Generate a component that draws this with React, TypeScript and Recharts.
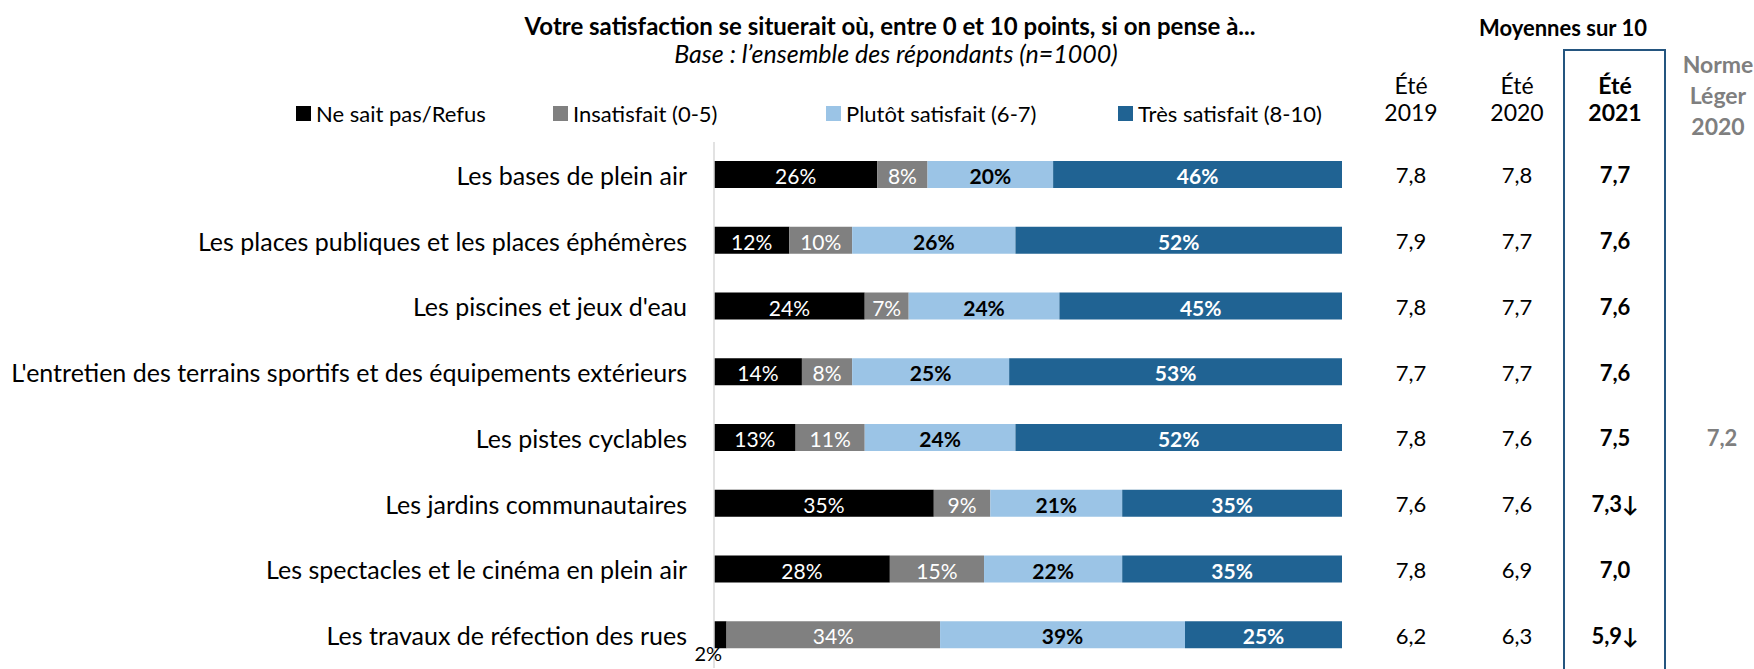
import React from 'react';
import { BarChart, Bar, XAxis, YAxis, LabelList } from 'recharts';

// Items rated (top to bottom)
const categories = [
  'Les bases de plein air',
  'Les places publiques et les places éphémères',
  "Les piscines et jeux d'eau",
  "L'entretien des terrains sportifs et des équipements extérieurs",
  'Les pistes cyclables',
  'Les jardins communautaires',
  'Les spectacles et le cinéma en plein air',
  'Les travaux de réfection des rues',
];

// % of respondents per answer group
const nsp = [26, 12, 24, 14, 13, 35, 28, 2];
const insatisfait = [8, 10, 7, 8, 11, 9, 15, 34];
const plutotSatisfait = [20, 26, 24, 25, 24, 21, 22, 39];
const tresSatisfait = [46, 52, 45, 53, 52, 35, 35, 25];

// Averages out of 10
const ete2019 = ['7,8', '7,9', '7,8', '7,7', '7,8', '7,6', '7,8', '6,2'];
const ete2020 = ['7,8', '7,7', '7,7', '7,7', '7,6', '7,6', '6,9', '6,3'];
const ete2021 = ['7,7', '7,6', '7,6', '7,6', '7,5', '7,3↓', '7,0', '5,9↓'];
const normeLeger2020 = ['', '', '', '', '7,2', '', '', ''];

const boundaryTicks = [0, 1, 2, 3, 4, 5, 6, 7, 8];

const FONT = 'Lato, "Open Sans", sans-serif';

const series = [
  { key: 'nsp', name: 'Ne sait pas/Refus', color: '#000000', text: '#ffffff', bold: false },
  { key: 'insat', name: 'Insatisfait (0-5)', color: '#808080', text: '#ffffff', bold: false },
  { key: 'plutot', name: 'Plutôt satisfait (6-7)', color: '#9BC4E6', text: '#000000', bold: true },
  { key: 'tres', name: 'Très satisfait (8-10)', color: '#206393', text: '#ffffff', bold: true },
];

const legendLeft = [296, 553, 826, 1118];

const data = categories.map((name, i) => ({
  name,
  nsp: nsp[i],
  insat: insatisfait[i],
  plutot: plutotSatisfait[i],
  tres: tresSatisfait[i],
}));

const columns = [
  { x: 1411, values: ete2019, bold: false, color: '#000' },
  { x: 1517, values: ete2020, bold: false, color: '#000' },
  { x: 1615, values: ete2021, bold: true, color: '#000' },
  { x: 1722, values: normeLeger2020, bold: true, color: '#7F7F7F' },
];

const makeLabel = (textColor: string, bold: boolean) => (props: any) => {
  const x = Number(props.x);
  const y = Number(props.y);
  const w = Number(props.width);
  const h = Number(props.height);
  const v = Number(props.value);
  if (v < 5) {
    // too small to fit: put it under the bar
    return (
      <text x={x + w / 2 - 12} y={y + h + 5} textAnchor="middle" dominantBaseline="central"
        fontSize={20} fontFamily={FONT} fill="#000">{v}%</text>
    );
  }
  return (
    <text x={x + w / 2} y={y + h / 2 + 1} textAnchor="middle" dominantBaseline="central"
      fontSize={21} fontFamily={FONT} fontWeight={bold ? 700 : 400} fill={textColor}>{v}%</text>
  );
};

const CategoryTick = (props: any) => {
  const { x, y, payload } = props;
  const i = categories.indexOf(payload.value);
  return (
    <g fontFamily={FONT}>
      <text x={x} y={y} textAnchor="end" dominantBaseline="central" fontSize={25} fill="#000">
        {payload.value}
      </text>
      {columns.map((c, k) => (
        <text key={k} x={c.x} y={y} textAnchor="middle" dominantBaseline="central" fontSize={22}
          fontWeight={c.bold ? 700 : 400} fill={c.color}>{c.values[i]}</text>
      ))}
    </g>
  );
};

const abs = (left: number, top: number, extra: React.CSSProperties = {}): React.CSSProperties => ({
  position: 'absolute',
  left,
  top,
  transform: 'translate(-50%, -50%)',
  whiteSpace: 'nowrap',
  ...extra,
});

export default function App() {
  return (
    <div style={{ position: 'relative', width: 1754, height: 669, overflow: 'hidden', background: '#fff', fontFamily: FONT }}>
      <style>{'body{margin:0}'}</style>

      <div style={abs(890, 25, { fontSize: 24, fontWeight: 700 })}>
        Votre satisfaction se situerait où, entre 0 et 10 points, si on pense à...
      </div>
      <div style={abs(896, 53, { fontSize: 25, fontStyle: 'italic' })}>
        Base : l’ensemble des répondants (n=1000)
      </div>

      {series.map((s, i) => (
        <div key={s.key} style={{ position: 'absolute', left: legendLeft[i], top: 100, display: 'flex', alignItems: 'center', fontSize: 22, whiteSpace: 'nowrap' }}>
          <span style={{ display: 'inline-block', width: 15, height: 15, background: s.color, marginRight: 5 }} />
          {s.name}
        </div>
      ))}

      <div style={abs(1563, 27, { fontSize: 22, fontWeight: 700 })}>Moyennes sur 10</div>
      <div style={abs(1411, 99, { fontSize: 23, textAlign: 'center', lineHeight: '27px' })}>Été<br />2019</div>
      <div style={abs(1517, 99, { fontSize: 23, textAlign: 'center', lineHeight: '27px' })}>Été<br />2020</div>
      <div style={abs(1615, 99, { fontSize: 23, textAlign: 'center', lineHeight: '27px', fontWeight: 700 })}>Été<br />2021</div>
      <div style={abs(1718, 95, { fontSize: 23, textAlign: 'center', lineHeight: '31px', fontWeight: 700, color: '#7F7F7F' })}>
        Norme<br />Léger<br />2020
      </div>
      <div style={{ position: 'absolute', left: 1563, top: 49, width: 99, height: 700, border: '2.5px solid #24557F' }} />

      <div style={{ position: 'absolute', left: 0, top: 0 }}>
        <BarChart width={1754} height={669} data={data} layout="vertical" barSize={27}
          margin={{ top: 142, right: 412, bottom: 1, left: 0 }}>
          <XAxis type="number" domain={[0, 100]} hide />
          <YAxis yAxisId="b_cat" type="category" dataKey="name" width={712} axisLine={false}
            tickLine={false} tickSize={0} tickMargin={25} interval={0} tick={<CategoryTick />} />
          <YAxis yAxisId="a_grid" type="number" domain={[0, 8]} ticks={boundaryTicks} reversed
            width={2} tick={false} tickSize={7} allowDataOverflow
            axisLine={{ stroke: '#D9D9D9', strokeWidth: 1.5 }} tickLine={{ stroke: '#D9D9D9', strokeWidth: 1.5 }} />
          {series.map((s) => (
            <Bar key={s.key} yAxisId="b_cat" dataKey={s.key} name={s.name} stackId="a" fill={s.color}
              isAnimationActive={false}>
              <LabelList dataKey={s.key} content={makeLabel(s.text, s.bold)} />
            </Bar>
          ))}
        </BarChart>
      </div>
    </div>
  );
}
